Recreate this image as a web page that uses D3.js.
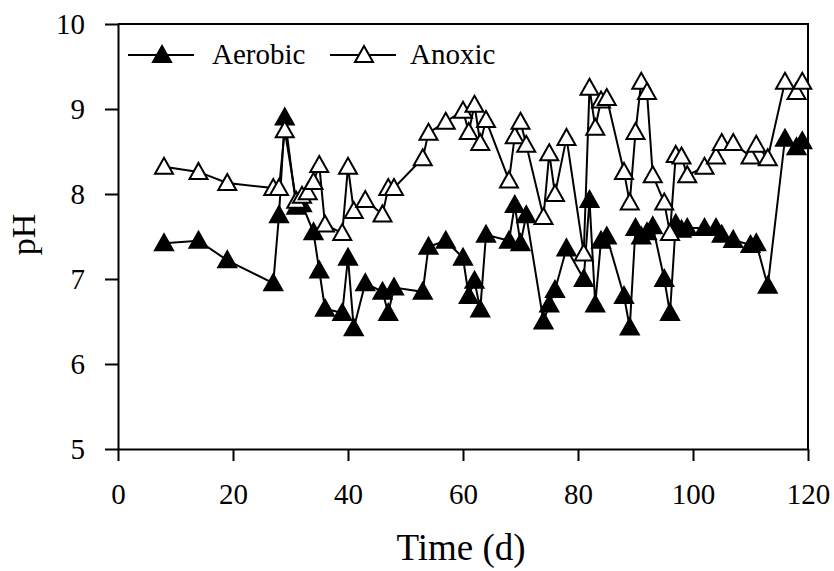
<!DOCTYPE html>
<html>
<head>
<meta charset="utf-8">
<script src="https://cdn.jsdelivr.net/npm/d3@7"></script>
<style>
body{margin:0;background:#fff;}
svg text{font-family:"Liberation Serif","Times New Roman",serif !important;}
</style>
</head>
<body>
<div id="chart"></div>
<script>
// days and pH readings
const aerobicDays=[8,14,19,27,28,29,31,32,34,35,36,39,40,41,43,46,47,48,53,54,57,60,61,62,63,64,68,69,70,71,74,75,76,78,81,82,83,84,85,88,89,90,91,92,93,95,96,97,98,99,102,104,105,107,110,111,113,116,118,119];
const aerobicPH=[7.42,7.45,7.22,6.95,7.75,8.9,7.85,7.88,7.55,7.1,6.65,6.6,7.25,6.42,6.95,6.85,6.6,6.9,6.85,7.38,7.45,7.25,6.8,6.98,6.64,7.52,7.45,7.87,7.42,7.75,6.5,6.7,6.87,7.36,7.0,7.93,6.7,7.45,7.5,6.8,6.43,7.6,7.5,7.55,7.62,7.0,6.6,7.65,7.58,7.6,7.6,7.6,7.52,7.46,7.4,7.42,6.92,8.65,8.55,8.62];

const anoxicDays=[8,14,19,27,28,29,31,32,33,34,35,36,39,40,41,43,46,47,48,53,54,57,60,61,62,63,64,68,69,70,71,74,75,76,78,81,82,83,84,85,88,89,90,91,92,93,95,96,97,98,99,102,104,105,107,110,111,113,116,118,119];
const anoxicPH=[8.32,8.26,8.13,8.07,8.07,8.75,7.92,7.98,8.02,8.14,8.34,7.64,7.54,8.32,7.8,7.93,7.76,8.07,8.07,8.42,8.72,8.85,8.98,8.73,9.05,8.6,8.87,8.16,8.68,8.85,8.58,7.73,8.48,8.0,8.66,7.3,9.25,8.78,9.1,9.13,8.26,7.9,8.73,9.32,9.2,8.22,7.9,7.54,8.46,8.44,8.22,8.32,8.44,8.6,8.6,8.44,8.58,8.42,9.32,9.2,9.32];

const xTicks=[0,20,40,60,80,100,120];
const yTicks=[5,6,7,8,9,10];

const aerobic=aerobicDays.map((d,i)=>({day:d,ph:aerobicPH[i]}));
const anoxic=anoxicDays.map((d,i)=>({day:d,ph:anoxicPH[i]}));

const margin={top:24,right:26,bottom:122,left:118};
const width=834-margin.left-margin.right;
const height=571-margin.top-margin.bottom;

const xscale=d3.scaleLinear().domain([0,120]).range([0,width]);
const yscale=d3.scaleLinear().domain([5,10]).range([height,0]);

const svg=d3.select('#chart')
.append('svg')
.attr('width',834)
.attr('height',571)
.append('g')
.attr('transform',`translate(${margin.left},${margin.top})`);

// frame top + right
svg.append('path')
.attr('d',`M0,0H${width}V${height}`)
.attr('fill','none')
.attr('stroke','#000')
.attr('stroke-width',2);

const xaxis=svg.append('g')
.attr('transform',`translate(0,${height})`)
.call(d3.axisBottom(xscale).tickValues(xTicks).tickFormat(d3.format('d')).tickSize(12).tickPadding(22).tickSizeOuter(0));

const yaxis=svg.append('g')
.call(d3.axisLeft(yscale).tickValues(yTicks).tickFormat(d3.format('d')).tickSize(13).tickPadding(20).tickSizeOuter(0));

[xaxis,yaxis].forEach(function(ax){
  ax.attr('font-size',29);
  ax.select('.domain').attr('stroke-width',2);
  ax.selectAll('.tick line').attr('stroke-width',2);
  ax.selectAll('.tick text').attr('font-size',29).attr('fill','#000');
});

svg.append('text')
.attr('x',width/2-2)
.attr('y',height+111)
.attr('text-anchor','middle')
.attr('font-size',37)
.text('Time (d)');

svg.append('text')
.attr('transform',`translate(${-83},${height/2-2}) rotate(-90)`)
.attr('text-anchor','middle')
.attr('font-size',34)
.text('pH');

const tri='M0,-9L9,7L-9,7Z';

const line=d3.line()
.x(function(d){return xscale(d.day)})
.y(function(d){return yscale(d.ph)});

function drawSeries(data,fill){
  svg.append('path')
  .datum(data)
  .attr('fill','none')
  .attr('stroke','#000')
  .attr('stroke-width',2)
  .attr('d',line);

  svg.selectAll(null)
  .data(data)
  .enter()
  .append('path')
  .attr('d',tri)
  .attr('transform',function(d){return `translate(${xscale(d.day)},${yscale(d.ph)})`})
  .attr('fill',fill)
  .attr('stroke','#000')
  .attr('stroke-width',2);
}

drawSeries(aerobic,'#000');
drawSeries(anoxic,'#fff');

// legend
const legend=[{name:'Aerobic',fill:'#000',x:10},{name:'Anoxic',fill:'#fff',x:212}];
const lg=svg.selectAll('.legend')
.data(legend)
.enter()
.append('g')
.attr('class','legend')
.attr('transform',function(d){return `translate(${d.x},31)`});

lg.append('line')
.attr('x1',0).attr('x2',66)
.attr('stroke','#000').attr('stroke-width',2);
lg.append('path')
.attr('d',tri)
.attr('transform','translate(34,0)')
.attr('fill',function(d){return d.fill})
.attr('stroke','#000').attr('stroke-width',2);
lg.append('text')
.attr('x',function(d,i){return i?80:84})
.attr('y',9)
.attr('font-size',29)
.text(function(d){return d.name});
</script>
</body>
</html>
